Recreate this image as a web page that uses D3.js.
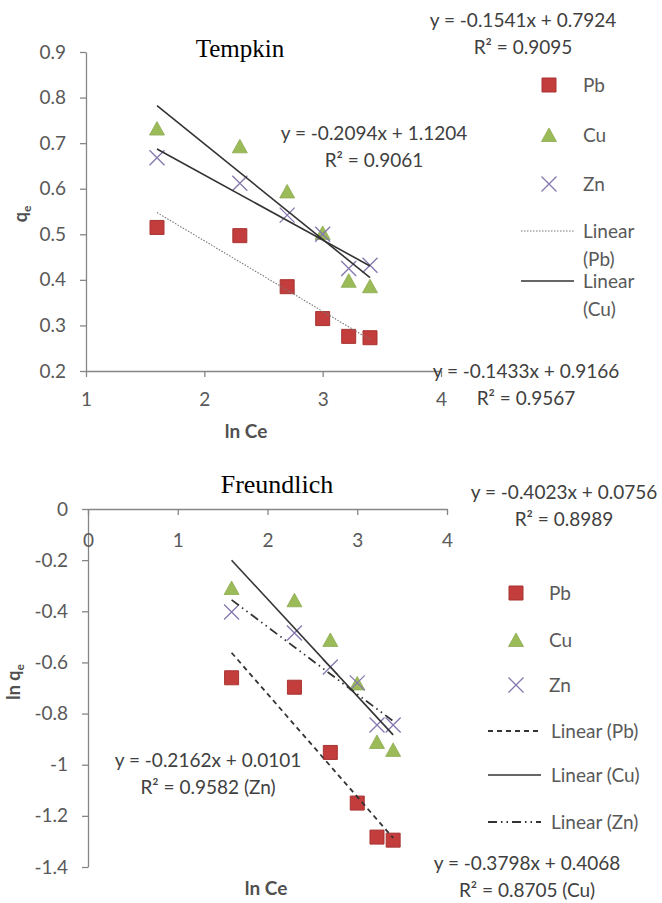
<!DOCTYPE html>
<html>
<head>
<meta charset="utf-8">
<script src="https://cdn.jsdelivr.net/npm/d3@7"></script>
<style>
  body { margin: 0; background: #fff; }
  svg { display: block; font-family: Lato, "Open Sans", sans-serif; }
</style>
</head>
<body>
<svg id="chart" width="662" height="903"></svg>
<script>
// ln Ce values shared by both isotherms
const lnCe = [1.6, 2.3, 2.7, 3.0, 3.22, 3.4];
const metals = ['Pb', 'Cu', 'Zn'];

// Tempkin: qe against ln Ce
const tempPb = [0.515, 0.497, 0.385, 0.315, 0.276, 0.273];
const tempCu = [0.732, 0.693, 0.594, 0.503, 0.398, 0.386];
const tempZn = [0.668, 0.612, 0.542, 0.500, 0.425, 0.432];
const tempXTicks = [1, 2, 3, 4];
const tempYTicks = [0.2, 0.3, 0.4, 0.5, 0.6, 0.7, 0.8, 0.9];
const tempEquations = [
  ['y = -0.1541x + 0.7924', 'R² = 0.9095'],
  ['y = -0.2094x + 1.1204', 'R² = 0.9061'],
  ['y = -0.1433x + 0.9166', 'R² = 0.9567']
];

// Freundlich: ln qe against ln Ce
const freuPb = [-0.660, -0.697, -0.952, -1.150, -1.283, -1.295];
const freuCu = [-0.309, -0.357, -0.512, -0.682, -0.911, -0.942];
const freuZn = [-0.403, -0.485, -0.618, -0.680, -0.845, -0.845];
const freuXTicks = [0, 1, 2, 3, 4];
const freuYTicks = [0, -0.2, -0.4, -0.6, -0.8, -1, -1.2, -1.4];
const freuEquations = [
  ['y = -0.4023x + 0.0756', 'R² = 0.8989'],
  ['y = -0.2162x + 0.0101', 'R² = 0.9582 (Zn)'],
  ['y = -0.3798x + 0.4068', 'R² = 0.8705 (Cu)']
];

const svg = d3.select('#chart');
const textCol = '#595959';
const axisCol = '#868686';
const fontSize = 19;

// marker shapes, roughly Excel 2007 defaults
const markerStyle = {
  Pb: { d: 'M-7,-7h14v14h-14z', fill: '#C23D3B', stroke: '#A83433', sw: 1 },
  Cu: { d: 'M0,-7L7.5,6.5L-7.5,6.5Z', fill: '#9BBB59', stroke: '#8DAA50', sw: 0.8 },
  Zn: { d: 'M-7.5,-7.5L7.5,7.5M-7.5,7.5L7.5,-7.5', fill: 'none', stroke: '#8577AE', sw: 1.3 }
};

// least squares fit, the way Excel draws its linear trendline
function linReg(xs, ys) {
  const mx = d3.mean(xs), my = d3.mean(ys);
  const sxy = d3.sum(xs, (x, i) => (x - mx) * (ys[i] - my));
  const sxx = d3.sum(xs, x => (x - mx) * (x - mx));
  const slope = sxy / sxx;
  return { slope, intercept: my - slope * mx };
}

function drawMarker(g, name, x, y) {
  const m = markerStyle[name];
  g.append('path')
    .attr('transform', `translate(${x},${y})`)
    .attr('d', m.d)
    .attr('fill', m.fill)
    .attr('stroke', m.stroke)
    .attr('stroke-width', m.sw);
}

function drawPanel(p) {
  const g = svg.append('g');
  const x = d3.scaleLinear().domain(p.xDomain).range(p.xRange);
  const y = d3.scaleLinear().domain(p.yDomain).range(p.yRange);

  // axes
  const yAxis = d3.axisLeft(y)
    .tickValues(p.yTicks)
    .tickFormat(p.yFormat)
    .tickSize(6).tickSizeOuter(0).tickPadding(14);
  const xAxis = d3.axisBottom(x)
    .tickValues(p.xTicks)
    .tickFormat(d => String(d))
    .tickSize(6).tickSizeOuter(0).tickPadding(p.xPad);

  const ya = g.append('g')
    .attr('transform', `translate(${p.xRange[0]},0)`)
    .call(yAxis);
  const xa = g.append('g')
    .attr('transform', `translate(0,${y(p.xAxisAt)})`)
    .call(xAxis);
  [ya, xa].forEach(a => {
    a.select('.domain').attr('stroke', axisCol).attr('stroke-width', 1.3);
    a.selectAll('.tick line').attr('stroke', axisCol).attr('stroke-width', 1.3);
    a.selectAll('.tick text')
      .attr('fill', textCol)
      .style('font-size', fontSize + 'px')
      .style('font-family', 'Lato, sans-serif');
  });

  // points
  const pts = g.append('g');
  p.series.forEach((ys, si) => {
    ys.forEach((v, i) => drawMarker(pts, metals[si], x(lnCe[i]), y(v)));
  });

  // trend lines drawn over the points
  const line = d3.line().x(d => x(d[0])).y(d => y(d[1]));
  const x0 = d3.min(lnCe), x1 = d3.max(lnCe);
  p.series.forEach((ys, si) => {
    const r = linReg(lnCe, ys);
    const st = p.trendStyle[si];
    g.append('path')
      .attr('d', line([[x0, r.intercept + r.slope * x0], [x1, r.intercept + r.slope * x1]]))
      .attr('fill', 'none')
      .attr('stroke', st.color)
      .attr('stroke-width', st.width)
      .attr('stroke-dasharray', st.dash);
  });

  // chart title
  g.append('text')
    .attr('x', p.title.x).attr('y', p.title.y)
    .attr('text-anchor', 'middle')
    .style('font-family', '"Liberation Serif", "Times New Roman", serif')
    .style('font-size', p.title.size + 'px')
    .attr('fill', '#000')
    .text(p.title.text);

  // axis titles
  g.append('text')
    .attr('x', p.xTitle.x).attr('y', p.xTitle.y)
    .attr('text-anchor', 'middle')
    .style('font-size', '19px').style('font-weight', 'bold')
    .attr('fill', '#505050')
    .text('ln Ce');
  const yt = g.append('text')
    .attr('transform', `translate(${p.yTitle.x},${p.yTitle.y}) rotate(-90)`)
    .attr('text-anchor', 'middle')
    .style('font-size', '18px').style('font-weight', 'bold')
    .attr('fill', '#505050');
  yt.append('tspan').text(p.yTitle.text);
  yt.append('tspan').attr('dy', 4).style('font-size', '12px').text('e');

  // equation labels
  p.equations.forEach((eq, i) => {
    const pos = p.eqPos[i];
    eq.forEach((t, j) => {
      g.append('text')
        .attr('x', pos[0]).attr('y', pos[1] + j * 27)
        .attr('dy', '0.35em')
        .attr('text-anchor', 'middle')
        .style('font-size', fontSize + 'px')
        .attr('fill', '#404040')
        .text(t);
    });
  });

  // legend
  const lg = g.append('g');
  metals.forEach((m, i) => {
    const ly = p.legend.markerY[i];
    drawMarker(lg, m, p.legend.markerX, ly);
    lg.append('text')
      .attr('x', p.legend.textX).attr('y', ly).attr('dy', '0.35em')
      .style('font-size', fontSize + 'px').attr('fill', textCol)
      .text(m);
  });
  p.legend.lines.forEach(l => {
    const st = p.trendStyle[l.series];
    lg.append('line')
      .attr('x1', p.legend.lineX[0]).attr('x2', p.legend.lineX[1])
      .attr('y1', l.y).attr('y2', l.y)
      .attr('stroke', st.color).attr('stroke-width', st.width)
      .attr('stroke-dasharray', st.dash);
    l.text.forEach((t, j) => {
      lg.append('text')
        .attr('x', p.legend.lineTextX).attr('y', l.y + j * 28).attr('dy', '0.35em')
        .style('font-size', fontSize + 'px').attr('fill', textCol)
        .text(t);
    });
  });
}

drawPanel({
  xDomain: [1, 4], xRange: [86, 441],
  yDomain: [0.2, 0.9], yRange: [371, 52],
  xTicks: tempXTicks, yTicks: tempYTicks,
  yFormat: d3.format('.1f'), xAxisAt: 0.2, xPad: 16,
  series: [tempPb, tempCu, tempZn],
  trendStyle: [
    { color: '#777', width: 1.1, dash: '1.5,1.5' },
    { color: '#333', width: 1.6, dash: null },
    { color: '#333', width: 1.6, dash: null }
  ],
  title: { text: 'Tempkin', x: 240, y: 57, size: 25 },
  xTitle: { x: 246, y: 438 },
  yTitle: { x: 27, y: 214, text: 'q' },
  equations: tempEquations,
  eqPos: [[523, 20], [374, 133], [526, 371]],
  legend: {
    markerX: 549, textX: 583, markerY: [85, 135, 184],
    lineX: [521, 574], lineTextX: 583,
    lines: [
      { series: 0, y: 231, text: ['Linear', '(Pb)'] },
      { series: 1, y: 281, text: ['Linear', '(Cu)'] }
    ]
  }
});

drawPanel({
  xDomain: [0, 4], xRange: [88, 447],
  yDomain: [-1.4, 0], yRange: [867, 509],
  xTicks: freuXTicks, yTicks: freuYTicks,
  yFormat: d => String(+d.toFixed(1)), xAxisAt: 0, xPad: 19,
  series: [freuPb, freuCu, freuZn],
  trendStyle: [
    { color: '#333', width: 1.8, dash: '5,4' },
    { color: '#333', width: 1.6, dash: null },
    { color: '#333', width: 1.8, dash: '9,4,1.5,4,1.5,4' }
  ],
  title: { text: 'Freundlich', x: 277, y: 493, size: 26 },
  xTitle: { x: 266, y: 895 },
  yTitle: { x: 20, y: 682, text: 'ln q' },
  equations: freuEquations,
  eqPos: [[564, 492], [208, 760], [527, 863]],
  legend: {
    markerX: 516, textX: 549, markerY: [593, 640, 685],
    lineX: [488, 541], lineTextX: 551,
    lines: [
      { series: 0, y: 731, text: ['Linear (Pb)'] },
      { series: 1, y: 775, text: ['Linear (Cu)'] },
      { series: 2, y: 822, text: ['Linear (Zn)'] }
    ]
  }
});
</script>
</body>
</html>
